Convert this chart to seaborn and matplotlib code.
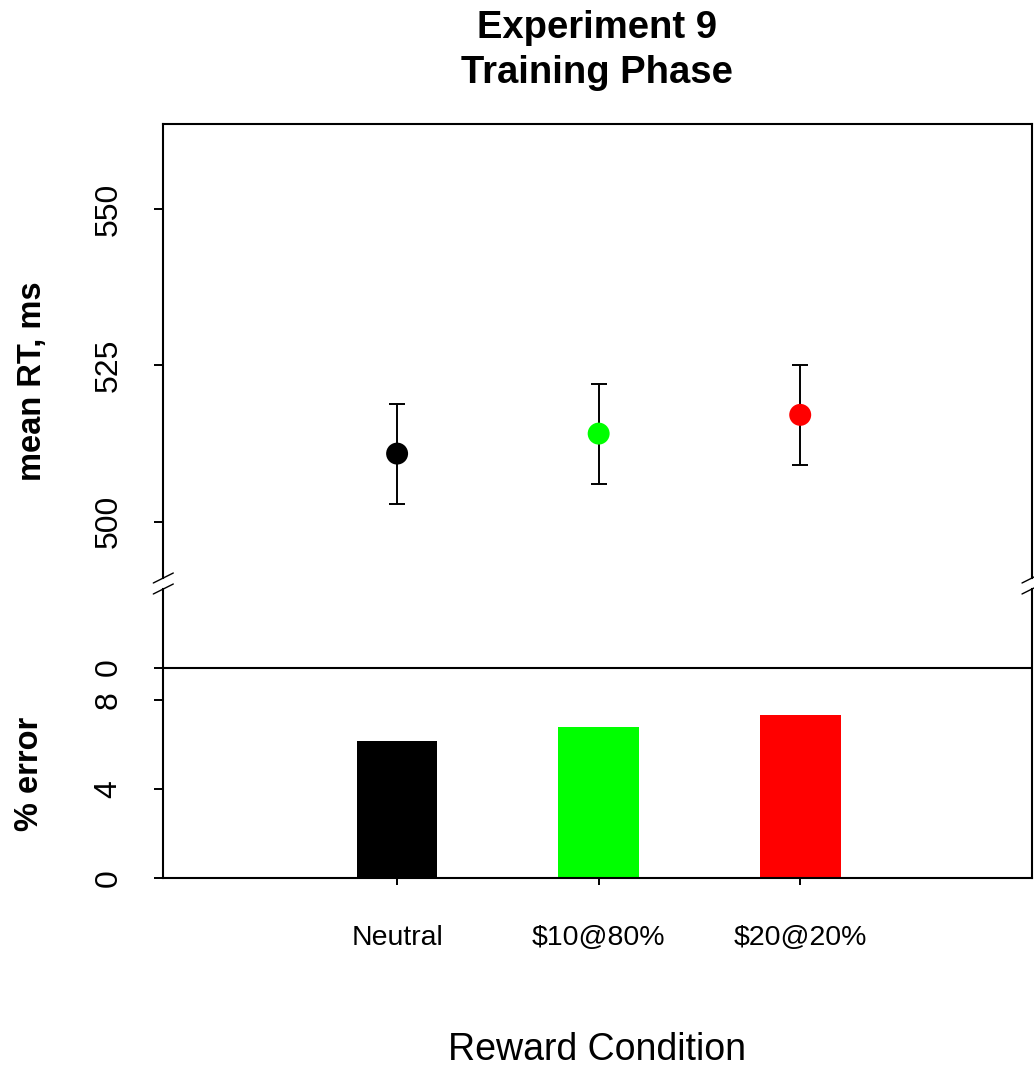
import numpy as np
import pandas as pd
import matplotlib
matplotlib.use("Agg")
import matplotlib.pyplot as plt
from matplotlib.lines import Line2D
import seaborn as sns

# values
conditions = ["Neutral", "$10@80%", "$20@20%"]
rt_mean = [510.9, 514.1, 517.1]
rt_ci = [8.0, 8.0, 8.0]
pct_error = [6.17, 6.80, 7.34]
colors = ["#000000", "#00ff00", "#ff0000"]
rt_ticks = [500, 525, 550]
err_ticks = [0, 4, 8]
err_rule = 9.46  # horizontal rule that R labelled "0"

sns.set_theme(style="ticks")
plt.rcParams["font.family"] = ["Liberation Sans", "DejaVu Sans"]
plt.rcParams["text.color"] = "black"

W, H = 1034, 1067
fig = plt.figure(figsize=(W / 100, H / 100), dpi=100)

def px(x0, y0, x1, y1):
    # pixel box -> figure fraction [left, bottom, width, height]
    return [x0 / W, 1 - y1 / H, (x1 - x0) / W, (y1 - y0) / H]

ax_rt = fig.add_axes(px(163.3, 124, 1032, 578))
ax_err = fig.add_axes(px(163.3, 589, 1032, 877.7))

df = pd.DataFrame({"condition": conditions, "rt": rt_mean, "ci": rt_ci, "err": pct_error})
xpos = np.arange(len(conditions))

# upper panel: mean RT with error bars
ax_rt.errorbar(xpos, df["rt"], yerr=df["ci"], fmt="none", ecolor="black",
               elinewidth=1.4, capsize=5.8, capthick=1.4, zorder=2)
sns.scatterplot(x=xpos, y=df["rt"], hue=df["condition"], hue_order=conditions,
                palette=colors, s=250, edgecolor="none", legend=False, ax=ax_rt, zorder=3)
ax_rt.set_ylim(490.99, 563.65)
ax_rt.set_yticks(rt_ticks)
ax_rt.set_xticks([])
ax_rt.set_xlabel("")
ax_rt.set_ylabel("")

# lower panel: % error bars
sns.barplot(data=df, x="condition", y="err", hue="condition", order=conditions,
            hue_order=conditions, palette=colors, saturation=1, width=0.4,
            linewidth=0, legend=False, ax=ax_err)
ax_err.axhline(err_rule, color="black", lw=1.5)
ax_err.set_ylim(0, 13.0)
ax_err.set_yticks(err_ticks + [err_rule])
ax_err.set_yticklabels([str(t) for t in err_ticks] + ["0"])
ax_err.set_xticks(xpos)
ax_err.set_xticklabels([c.replace("$", r"\$") for c in conditions])
ax_err.set_xlabel("")
ax_err.set_ylabel("")

for ax in (ax_rt, ax_err):
    ax.set_xlim(-1.16, 3.15)
    for s in ax.spines.values():
        s.set_color("black")
        s.set_linewidth(1.5)
    ax.tick_params(axis="y", length=6.5, width=1.4, color="black", labelsize=23,
                   labelrotation=90, pad=22, labelcolor="black")
    for lab in ax.get_yticklabels():
        lab.set_va("center")
ax_rt.spines["bottom"].set_visible(False)
ax_err.spines["top"].set_visible(False)
ax_err.tick_params(axis="x", length=5, width=1.4, color="black", labelsize=20.5,
                   pad=29, labelcolor="black")

# axis break marks
for xc in (163.3, 1032):
    for yc in (578, 589):
        fig.add_artist(Line2D([(xc - 10) / W, (xc + 10) / W],
                              [1 - (yc + 5) / H, 1 - (yc - 5) / H],
                              color="black", lw=1.0))

# titles and labels
fig.text(597 / W, 1 - 38 / H, "Experiment 9", ha="center", va="baseline",
         fontsize=27.5, fontweight="bold")
fig.text(597 / W, 1 - 83 / H, "Training Phase", ha="center", va="baseline",
         fontsize=27.5, fontweight="bold")
fig.text(33 / W, 1 - 381 / H, "mean RT, ms", rotation=90, ha="center", va="center",
         fontsize=23.5, fontweight="bold")
fig.text(29 / W, 1 - 774 / H, "% error", rotation=90, ha="center", va="center",
         fontsize=23.5, fontweight="bold")
fig.text(597 / W, 1 - 1050 / H, "Reward Condition", ha="center", va="center",
         fontsize=27)

fig.savefig("out.png", dpi=100)
